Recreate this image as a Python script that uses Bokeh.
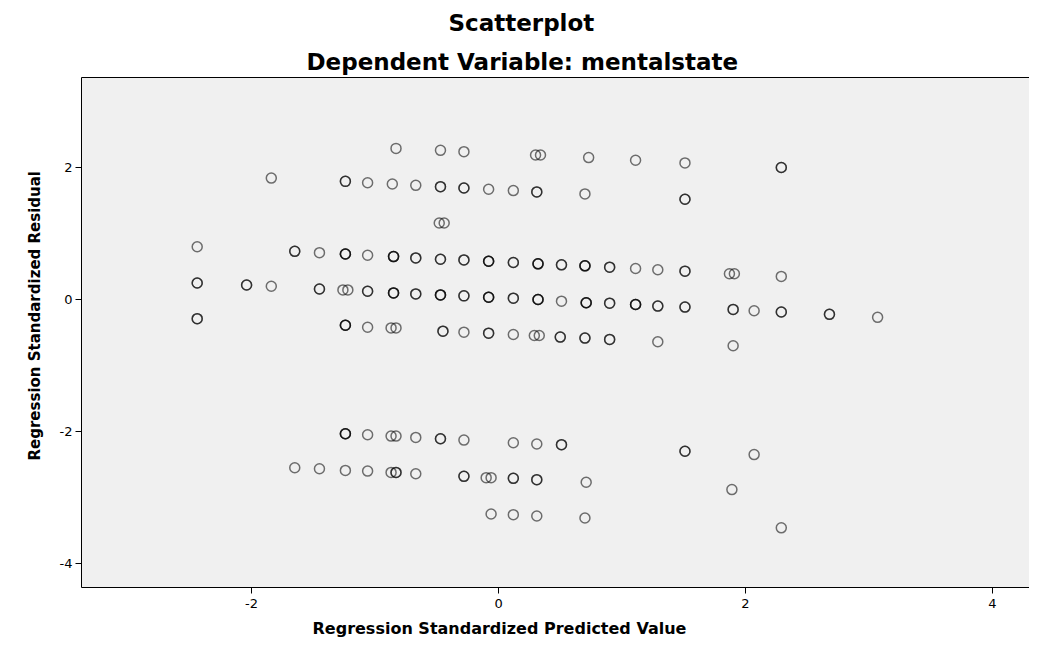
from bokeh.plotting import figure
from bokeh.models import (Range1d, FixedTicker, Title, ColumnDataSource, LinearAxis,
                          PrintfTickFormatter)
from bokeh.embed import file_html
from bokeh.resources import INLINE

# Regression Standardized Predicted Value (x) and Standardized Residual (y)
pred = [
    # top band ~2.2
    -0.83, -0.47, -0.28, 0.30, 0.34, 0.73, 1.11, 1.51, 2.29, 2.29,
    # band ~1.7
    -1.84, -1.24, -1.24, -1.06, -0.86, -0.67, -0.47, -0.47, -0.28, -0.28,
    -0.08, 0.12, 0.31, 0.31, 0.70, 1.51, 1.51,
    # ~1.16
    -0.48, -0.44,
    # band ~0.6
    -2.44, -1.65, -1.65, -1.45, -1.24, -1.24, -1.24, -1.06, -0.85, -0.85, -0.85,
    -0.67, -0.67, -0.47, -0.47, -0.28, -0.28, -0.08, -0.08, -0.08, 0.12, 0.12,
    0.32, 0.32, 0.32, 0.51, 0.51, 0.70, 0.70, 0.70, 0.90, 0.90, 1.11, 1.29,
    1.51, 1.51, 1.87, 1.91, 2.29,
    # band ~0.1
    -2.44, -2.44, -2.04, -2.04, -1.84, -1.45, -1.45, -1.26, -1.22, -1.06, -1.06,
    -0.85, -0.85, -0.85, -0.67, -0.67, -0.47, -0.47, -0.47, -0.28, -0.28,
    -0.08, -0.08, -0.08, 0.12, 0.12, 0.32, 0.32, 0.32, 0.51, 0.71, 0.71, 0.71,
    0.90, 0.90, 1.11, 1.11, 1.11, 1.29, 1.29, 1.51, 1.51, 1.90, 1.90, 2.07,
    2.29, 2.29, 2.68, 2.68, 3.07,
    # band ~-0.5
    -2.44, -2.44, -1.24, -1.24, -1.24, -1.06, -0.87, -0.83, -0.45, -0.45, -0.28,
    -0.08, -0.08, 0.12, 0.29, 0.33, 0.50, 0.50, 0.70, 0.70, 0.90, 0.90, 1.29, 1.90,
    # band ~-2.1
    -1.24, -1.24, -1.24, -1.06, -0.87, -0.83, -0.67, -0.47, -0.47, -0.28, 0.12,
    0.31, 0.51, 0.51, 1.51, 1.51, 2.07,
    # band ~-2.6
    -1.65, -1.45, -1.24, -1.06, -0.87, -0.83, -0.83, -0.67, -0.28, -0.28, -0.10,
    -0.06, 0.12, 0.12, 0.31, 0.31, 0.71, 1.89,
    # band ~-3.3
    -0.06, 0.12, 0.31, 0.70, 2.29,
]

resid = [
    2.29, 2.26, 2.24, 2.19, 2.19, 2.15, 2.11, 2.07, 2.00, 2.00,
    1.84, 1.79, 1.79, 1.77, 1.75, 1.73, 1.71, 1.71, 1.69, 1.69,
    1.67, 1.65, 1.63, 1.63, 1.60, 1.52, 1.52,
    1.16, 1.16,
    0.80, 0.73, 0.73, 0.71, 0.69, 0.69, 0.69, 0.67, 0.65, 0.65, 0.65,
    0.63, 0.63, 0.61, 0.61, 0.60, 0.60, 0.58, 0.58, 0.58, 0.56, 0.56,
    0.54, 0.54, 0.54, 0.525, 0.525, 0.51, 0.51, 0.51, 0.49, 0.49, 0.47, 0.45,
    0.43, 0.43, 0.39, 0.39, 0.35,
    0.25, 0.25, 0.22, 0.22, 0.20, 0.16, 0.16, 0.145, 0.145, 0.125, 0.125,
    0.10, 0.10, 0.10, 0.085, 0.085, 0.07, 0.07, 0.07, 0.055, 0.055,
    0.035, 0.035, 0.035, 0.02, 0.02, 0.0, 0.0, 0.0, -0.025, -0.05, -0.05, -0.05,
    -0.055, -0.055, -0.075, -0.075, -0.075, -0.10, -0.10, -0.115, -0.115, -0.15, -0.15, -0.17,
    -0.19, -0.19, -0.225, -0.225, -0.27,
    -0.29, -0.29, -0.39, -0.39, -0.39, -0.42, -0.43, -0.43, -0.48, -0.48, -0.495,
    -0.51, -0.51, -0.53, -0.545, -0.545, -0.57, -0.57, -0.585, -0.585, -0.605, -0.605, -0.64, -0.70,
    -2.035, -2.035, -2.035, -2.05, -2.07, -2.07, -2.09, -2.11, -2.11, -2.13, -2.17,
    -2.19, -2.20, -2.20, -2.30, -2.30, -2.35,
    -2.55, -2.565, -2.59, -2.60, -2.62, -2.62, -2.62, -2.64, -2.68, -2.68, -2.70,
    -2.70, -2.71, -2.71, -2.73, -2.73, -2.77, -2.88,
    -3.25, -3.26, -3.28, -3.31, -3.46,
]

x_ticks = [-2, 0, 2, 4]
y_ticks = [-4, -2, 0, 2]

FONT = "DejaVu Sans"

p = figure(width=1029, height=644, output_backend="svg", toolbar_location=None,
           x_range=Range1d(-3.377, 4.30), y_range=Range1d(-4.364, 3.364),
           min_border_left=81, min_border_right=0, min_border_top=77,
           min_border_bottom=57)

xax = p.below[0]
yax = p.left[0]

# top border line of the frame (right side is cut off in the reference)
top_axis = LinearAxis(ticker=FixedTicker(ticks=[]), major_label_text_font_size="0px",
                      major_tick_out=0, major_tick_in=0, minor_tick_out=0, minor_tick_in=0,
                      axis_line_color="black", axis_line_width=1)
p.add_layout(top_axis, "above")

p.add_layout(Title(text="Dependent Variable: mentalstate", align="left", offset=225,
                   text_font=FONT, text_font_size="23px", text_font_style="bold",
                   text_color="black", standoff=6), "above")
p.add_layout(Title(text="Scatterplot", align="left", offset=367,
                   text_font=FONT, text_font_size="23px", text_font_style="bold",
                   text_color="black", standoff=15), "above")

# axis titles (placed like the reference, which is not centred on the frame)
p.add_layout(Title(text="Regression Standardized Predicted Value", align="left",
                   offset=231, text_font=FONT, text_font_size="16px",
                   text_font_style="bold", text_color="black", standoff=12), "below")
p.add_layout(Title(text="Regression Standardized Residual", align="left",
                   offset=127, text_font=FONT, text_font_size="15px",
                   text_font_style="bold", text_color="black", standoff=26), "left")

src = ColumnDataSource(dict(x=pred, y=resid))
p.scatter("x", "y", source=src, marker="circle", size=10, fill_color=None,
          line_color="black", line_alpha=0.55, line_width=1.5)

p.background_fill_color = "#f0f0f0"
p.border_fill_color = "white"
p.outline_line_color = None
p.grid.visible = False

for ax in (xax, yax):
    ax.axis_line_color = "black"
    ax.axis_line_width = 1
    ax.major_tick_in = 0
    ax.major_tick_out = 6
    ax.minor_tick_in = 0
    ax.minor_tick_out = 0
    ax.major_tick_line_color = "black"
    ax.minor_tick_line_color = None
    ax.formatter = PrintfTickFormatter(format="%d")
    ax.major_label_text_font = FONT
    ax.major_label_text_font_size = "13px"
    ax.major_label_text_color = "black"

xax.ticker = FixedTicker(ticks=x_ticks)
yax.ticker = FixedTicker(ticks=y_ticks)
xax.major_label_standoff = 5
yax.major_label_standoff = 3

open("out.html", "w").write(file_html(p, INLINE))
